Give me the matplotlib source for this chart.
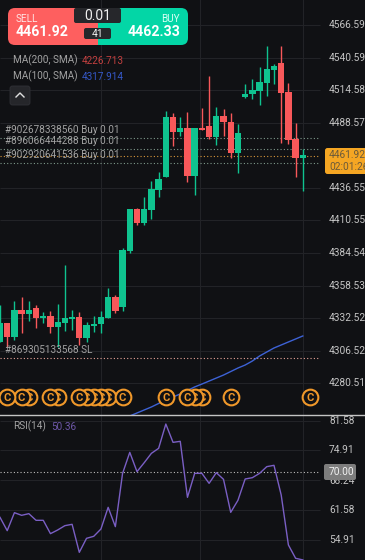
import matplotlib
matplotlib.use("Agg")
import matplotlib.pyplot as plt
from matplotlib.patches import FancyBboxPatch, Rectangle
import numpy as np

plt.rcParams['font.family'] = ['Roboto', 'DejaVu Sans']

BG = '#101114'; GRID = '#222327'; UP = '#0FC38F'; DOWN = '#F8585A'
TXT = '#c4c4c4'; LBL = '#a2a2a2'

opens = [4313.7,4328.4,4317.7,4339.0,4335.8,4340.9,4332.9,4334.5,4325.7,4329.0,4331.6,4333.5,4317.0,4326.5,4327.6,
         4332.4,4349.4,4341.7,4386.2,4420.0,4408.3,4418.9,4434.9,4445.5,4493.4,4480.9,4484.4,4446.1,4484.4,4486.0,
         4476.9,4494.0,4489.2,4464.4,4509.4,4511.5,4513.9,4520.6,4530.7,4536.3,4512.9,4475.6,4460.7]
closes = [4328.4,4317.7,4339.0,4335.8,4339.0,4332.9,4334.5,4325.7,4329.2,4332.4,4333.5,4317.0,4327.1,4328.1,4333.2,
          4349.4,4338.5,4386.7,4420.0,4408.3,4420.0,4435.7,4443.7,4493.4,4480.9,4484.4,4446.1,4484.4,4483.1,4476.9,
          4494.0,4489.2,4464.4,4480.1,4511.8,4514.7,4521.1,4531.3,4533.9,4512.3,4474.8,4460.7,4462.6]
highs = [4343.0,4328.4,4346.2,4349.7,4346.5,4343.0,4337.7,4338.5,4343.6,4375.0,4339.0,4337.2,4329.2,4334.5,4338.2,
         4356.9,4351.0,4388.8,4420.0,4420.8,4429.5,4442.3,4449.5,4498.0,4496.1,4493.4,4497.2,4484.4,4500.1,4526.2,
         4500.9,4499.6,4496.1,4487.6,4519.3,4523.3,4533.4,4549.9,4535.2,4549.9,4520.1,4488.4,4467.6]
lows = [4313.7,4309.8,4315.1,4320.4,4330.5,4325.0,4329.0,4321.0,4309.8,4322.5,4323.1,4311.1,4313.7,4321.2,4320.4,
        4332.4,4336.9,4338.5,4384.8,4406.7,4407.0,4411.7,4429.0,4445.5,4470.0,4478.0,4441.0,4430.9,4483.1,4475.9,
        4470.8,4478.0,4460.4,4448.2,4508.1,4507.6,4502.8,4510.2,4519.3,4472.2,4471.6,4445.3,4434.3]
ma100_start = 18
ma100 = [4254.4,4256.8,4259.2,4261.6,4264.4,4267.2,4269.6,4272.0,4274.8,4277.6,4279.9,4282.3,4284.7,4287.1,4289.9,
         4292.7,4295.1,4298.3,4302.3,4305.5,4308.7,4311.1,4313.5,4315.9,4318.3]
rsi = [59.91,56.92,60.95,60.36,60.73,59.24,59.24,56.25,57.07,58.04,58.34,52.06,55.20,55.65,57.29,62.15,57.82,69.77,
       74.48,70.15,72.16,74.26,75.38,80.83,76.72,76.95,64.39,69.77,69.77,67.53,69.92,68.43,61.03,63.72,68.50,68.80,
       69.77,71.27,71.57,64.92,53.71,50.72,50.36]
price_ticks = [4566.59,4540.59,4514.58,4488.57,4436.55,4410.55,4384.54,4358.53,4332.52,4306.52,4280.51]
rsi_ticks = [81.58,74.91,68.24,61.58,54.91]
order_prices = [4476.2,4467.4,4456.2]
order_labels = ['#902678338560 Buy 0.01','#896066444288 Buy 0.01','#902920641536 Buy 0.01']
order_label_prices = [4483.0,4473.8,4462.6]
bid = 4461.92
sl_price = 4300.5
sl_label = '#869305133568 SL'
sl_label_price = 4307.3
c_marks = [1,3,4,7,8,11,12,13,14,15,17,23,26,27,28,32,43]
c_price = 4269.8

W, H = 365, 560
SP = 7.21  # px per candle
PANE = 415.3
fig = plt.figure(figsize=(W/100, H/100), dpi=100, facecolor=BG)
ax = fig.add_axes([0, 1-PANE/H, 1, PANE/H], facecolor=BG)
rx = fig.add_axes([0, 0, 1, (H-416)/H], facecolor=BG)
ov = fig.add_axes([0, 0, 1, 1], facecolor='none')
ov.set_xlim(0, W); ov.set_ylim(H, 0); ov.axis('off')
for a in (ax, rx):
    a.axis('off')
    a.set_xlim(0, W/SP)
ax.set_ylim(4254.95, 4586.6)
rx.set_ylim(50.34, 82.63)
XR = 320/SP

# grid
gx = [100.7/SP, 200/SP, 302.7/SP]
for a in (ax, rx):
    for x in gx:
        a.axvline(x, color=GRID, lw=0.8, zorder=1)
ax.hlines(price_ticks, 0, XR, color=GRID, lw=0.8, zorder=1)
rx.hlines(rsi_ticks, 0, XR, color=GRID, lw=0.8, zorder=1)

# order lines
ax.hlines(order_prices, 0, XR, color='#7f9a8c', lw=0.8, linestyles=(0, (1, 2)), zorder=2)
ax.hlines([bid], 0, XR, color='#d9973a', lw=0.8, linestyles=(0, (1, 2)), zorder=2)
ax.hlines([sl_price], 0, XR, color='#e8a49a', lw=0.8, linestyles=(0, (1, 2)), zorder=2)

# candles
idx = np.arange(len(opens))
o, c_, h, l = map(np.array, (opens, closes, highs, lows))
cols = [UP if b >= a else DOWN for a, b in zip(o, c_)]
ax.vlines(idx, l, h, colors=cols, lw=1.0, zorder=3)
ax.bar(idx, np.maximum(np.abs(c_-o), 0.6), bottom=np.minimum(o, c_), width=0.88, color=cols, zorder=4, linewidth=0)

# MA
ax.plot(np.arange(len(ma100))+ma100_start, ma100, color='#3d62d6', lw=1.0, zorder=3)

# C markers
for k, i in enumerate(c_marks):
    z = 20 - k if i != 17 else 30
    ax.plot([i], [c_price], 'o', ms=11.3, mfc=BG, mec='#F0982A', mew=1.5, zorder=z)
    ax.text(i, c_price, 'C', color='#F0982A', fontsize=8, ha='center', va='center_baseline', zorder=z+0.5,
            fontweight='bold')

# RSI
rx.hlines([70], 0, XR, color='#bdbdbd', lw=0.8, linestyles=(0, (1, 2)), zorder=2)
rx.plot(idx, rsi, color='#7a5fc4', lw=1.0, zorder=3)

# separator
ov.plot([0, W], [415.3, 415.3], color='#c4c4c4', lw=1.0)

# right axis labels: placed from the same scale
def py(p):
    return 383.3 - (p-4280.51)/0.7986
def ry(v):
    return 32/3 + 410 + (81.58-v)/0.07473/3
FS = 7.3
for p in price_ticks:
    ov.text(329, py(p), f'{p:.2f}', color=TXT, fontsize=FS, va='center', ha='left')
for v in rsi_ticks:
    if v != 68.24:
        ov.text(329, ry(v), f'{v:.2f}', color=TXT, fontsize=FS, va='center', ha='left')
ov.text(329, ry(68.24)+1, '68.24', color=TXT, fontsize=FS, va='center', ha='left')

# price tag
ov.add_patch(FancyBboxPatch((325, 148), 45, 26, boxstyle='round,pad=0,rounding_size=2.5', fc='#F5A623', ec='none', zorder=6))
ov.text(329, 155.5, f'{bid:.2f}', color='#6b5a3a', fontsize=FS, va='center', zorder=7)
ov.text(329, 167, '02:01:26', color='#6b5a3a', fontsize=FS, va='center', zorder=7, clip_on=True)
# 70 tag
ov.add_patch(FancyBboxPatch((324, 464), 32, 16, boxstyle='round,pad=0,rounding_size=2', fc='#7d7d7d', ec='none', zorder=6))
ov.text(329, 472, '70.00', color='#f2f2f2', fontsize=FS, va='center', zorder=7)

# order labels
LF = 7.2
for lab, p in zip(order_labels, order_label_prices):
    ov.text(5, py(p), lab, color=LBL, fontsize=LF, va='center')
ov.text(5, py(sl_label_price), sl_label, color=LBL, fontsize=LF, va='center')

# MA legend
ov.text(13, 60.5, 'MA(200, SMA)', color=LBL, fontsize=LF, va='center')
ov.text(82, 60.5, '4226.713', color='#c2403f', fontsize=LF, va='center')
ov.text(13, 76.5, 'MA(100, SMA)', color=LBL, fontsize=LF, va='center')
ov.text(82, 76.5, '4317.914', color='#3558c8', fontsize=LF, va='center')
ov.text(13, 426.5, 'RSI(14)', color=LBL, fontsize=LF, va='center')
ov.text(51, 426.5, '50.36', color='#6e58a8', fontsize=LF, va='center')

# collapse button
ov.add_patch(FancyBboxPatch((10, 86), 20, 19, boxstyle='round,pad=0,rounding_size=2.5', fc='#25262a', ec='#303136', lw=0.6))
ov.plot([16, 20, 24], [97, 93, 97], color='#e0e0e0', lw=1.0)

# trade widget
clip = FancyBboxPatch((8, 8), 180, 37, boxstyle='round,pad=0,rounding_size=7', fc='none', ec='none')
ov.add_patch(clip)
r1 = Rectangle((8, 8), 89.5, 37, fc='#FE5F5F', ec='none', zorder=5)
r2 = Rectangle((97.5, 8), 90.5, 37, fc='#03D6A6', ec='none', zorder=5)
for r in (r1, r2):
    ov.add_patch(r); r.set_clip_path(clip)
ov.add_patch(FancyBboxPatch((74, 8), 47, 15, boxstyle='round,pad=0,rounding_size=2', fc='#26272b', ec='none', zorder=6))
ov.add_patch(FancyBboxPatch((84, 28), 27, 11, boxstyle='round,pad=0,rounding_size=2', fc='#26272b', ec='none', zorder=6))
ov.text(97.5, 15.5, '0.01', color='#f0f0f0', fontsize=10, ha='center', va='center', zorder=7)
ov.text(97.5, 33.7, '41', color='#f0f0f0', fontsize=7.5, ha='center', va='center', zorder=7)
ov.text(16, 19, 'SELL', color='#ffe2e2', fontsize=7.2, va='center', zorder=7)
ov.text(180, 19, 'BUY', color='#d6fff4', fontsize=7.2, va='center', ha='right', zorder=7)
ov.text(16, 32, '4461.92', color='white', fontsize=10.2, va='center', fontweight='bold', zorder=7)
ov.text(180, 32, '4462.33', color='white', fontsize=10.2, va='center', ha='right', fontweight='bold', zorder=7)

fig.savefig('out.png', dpi=100, facecolor=BG)
